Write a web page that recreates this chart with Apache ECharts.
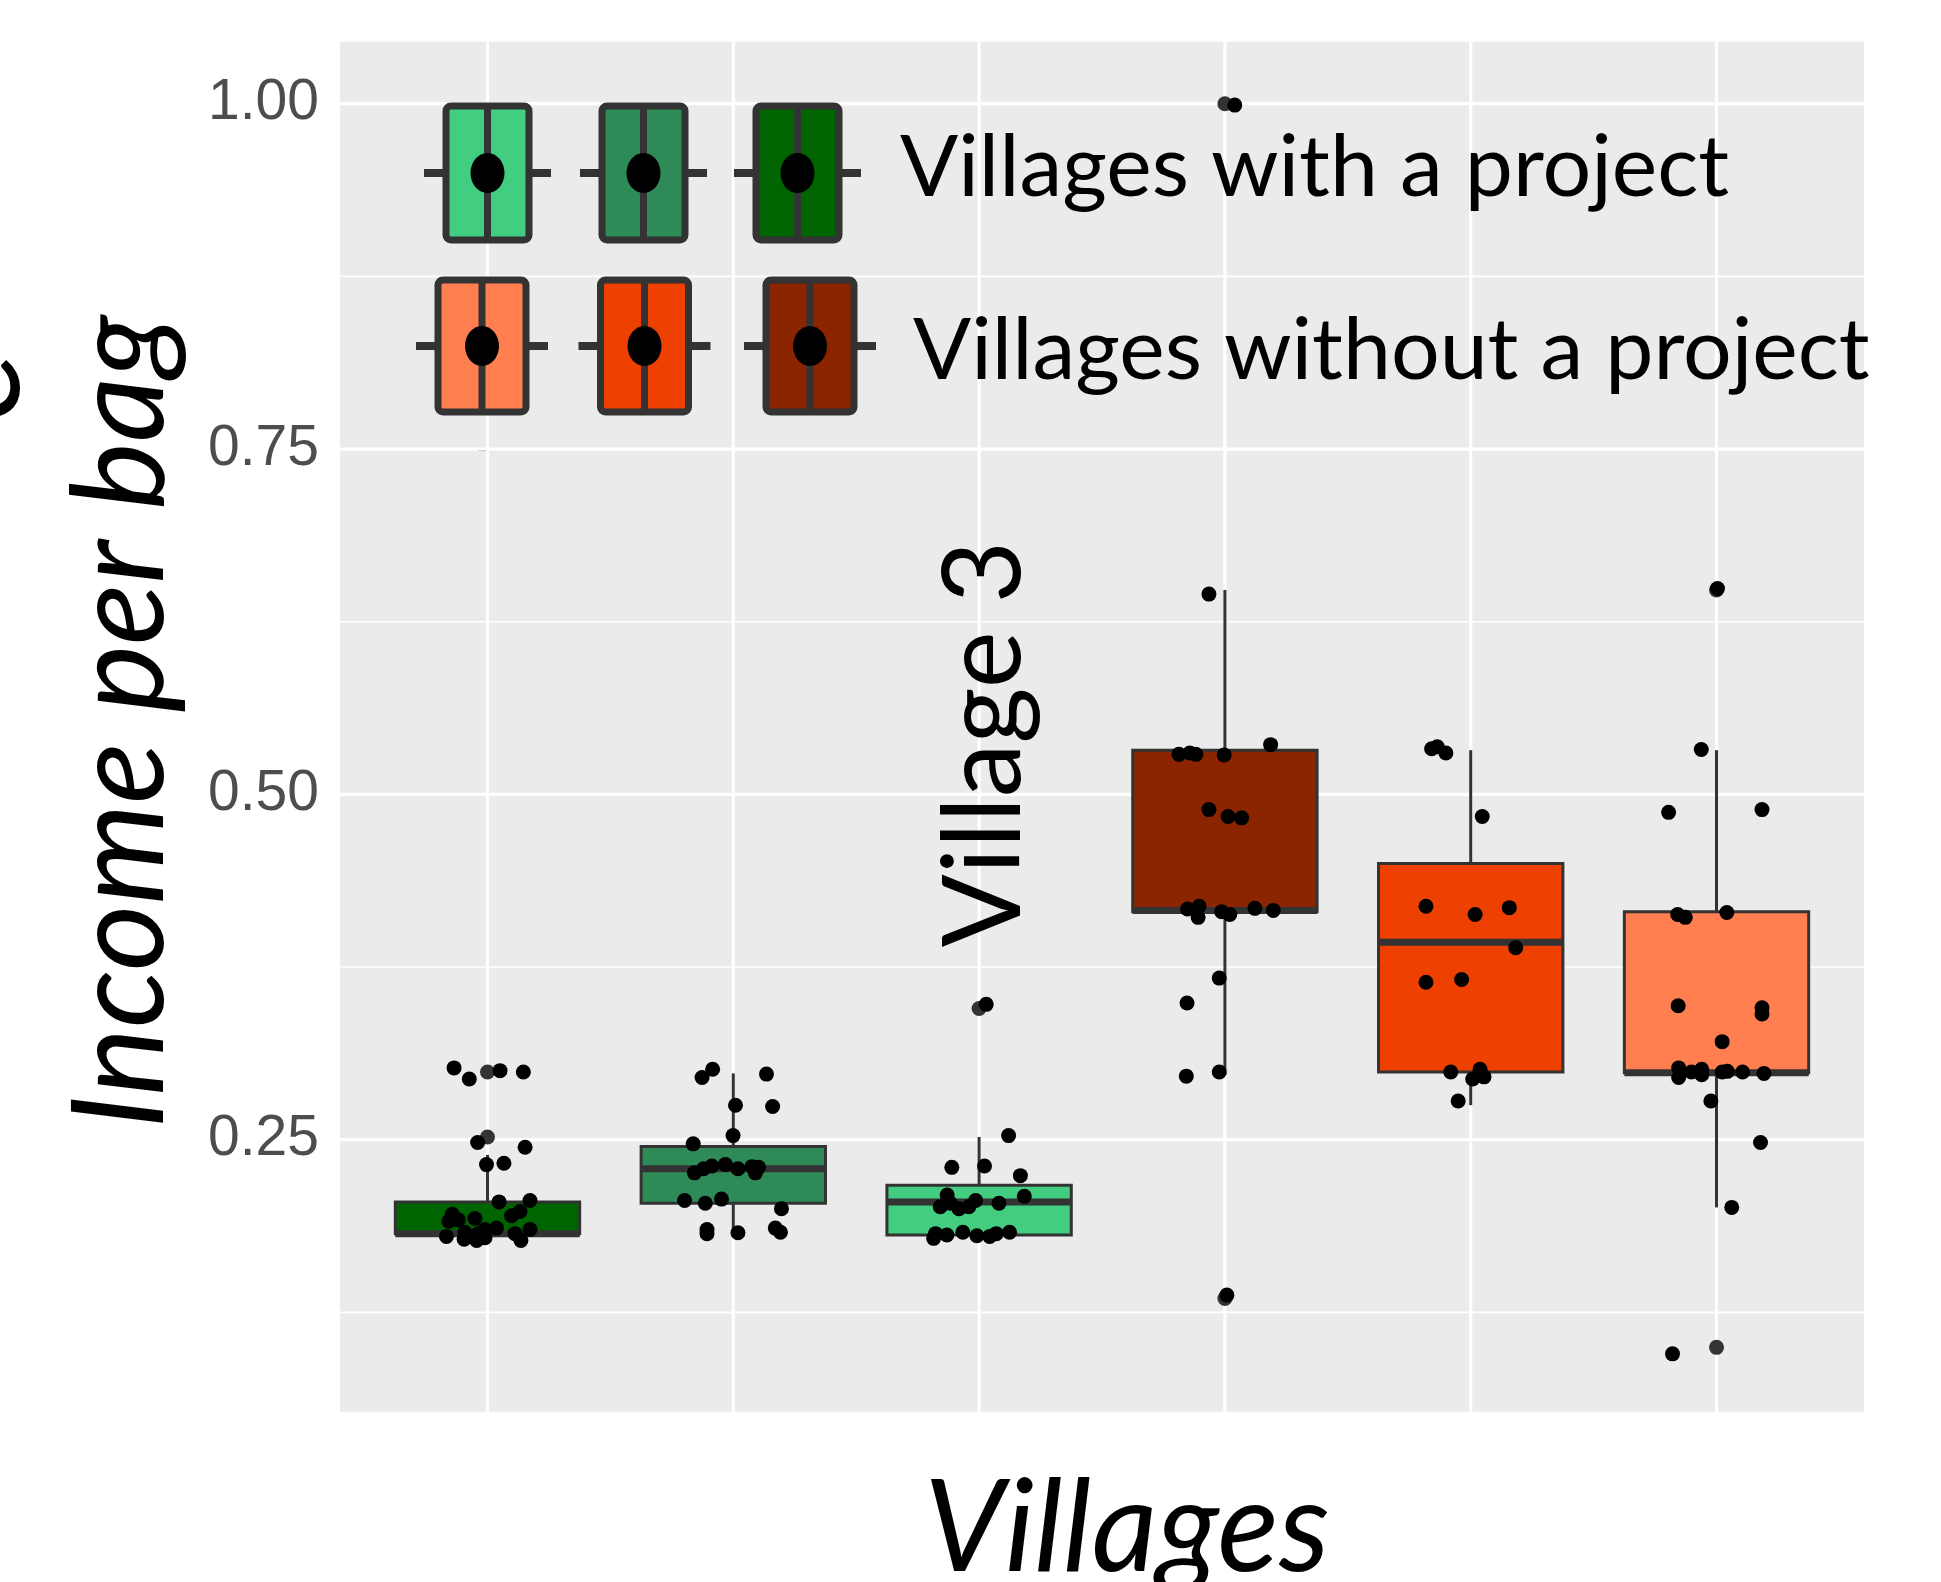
<!DOCTYPE html>
<html><head><meta charset="utf-8">
<script src="https://cdn.jsdelivr.net/npm/echarts@6/dist/echarts.min.js"></script>
<style>html,body{margin:0;padding:0;background:#fff}#c{width:1941px;height:1582px}</style>
</head><body><div id="c"></div>
<script>
// ---------------- data ----------------
const villages = ['Village 1', 'Village 2', 'Village 3', 'Village 4', 'Village 5', 'Village 6'];
const boxColors = ['#006400', '#2E8B57', '#43CD80', '#8B2500', '#EE4000', '#FF7F50'];
// [lower whisker, Q1, median, Q3, upper whisker]
const boxStats = [
  [0.182, 0.182, 0.182, 0.205, 0.239],
  [0.183, 0.204, 0.229, 0.245, 0.298],
  [0.181, 0.181, 0.205, 0.217, 0.252],
  [0.297, 0.415, 0.416, 0.532, 0.648],
  [0.275, 0.299, 0.393, 0.450, 0.532],
  [0.201, 0.2985, 0.2985, 0.415, 0.532]
];
// boxplot outliers: [village index, value]
const outlierPoints = [[0, 0.299], [0, 0.252], [2, 0.345], [3, 1.0], [3, 0.135], [5, 0.648], [5, 0.0997]];
// jittered observations per village: values and horizontal jitter (category units)
const valuesV1 = [0.302, 0.294, 0.300, 0.299, 0.248, 0.2445, 0.232, 0.233, 0.205, 0.206, 0.198, 0.195, 0.196, 0.191, 0.192, 0.193, 0.183, 0.185, 0.186, 0.185, 0.180, 0.178, 0.177, 0.179, 0.182, 0.177, 0.182];
const jitterV1 = [-0.136, -0.074, 0.051, 0.146, -0.040, 0.153, -0.004, 0.067, 0.047, 0.173, 0.132, 0.098, -0.143, -0.157, -0.119, -0.051, -0.092, -0.010, 0.037, 0.173, -0.167, -0.095, -0.044, -0.010, 0.112, 0.136, -0.037];
const valuesV2 = [0.301, 0.295, 0.2975, 0.275, 0.274, 0.253, 0.247, 0.226, 0.229, 0.231, 0.232, 0.229, 0.2305, 0.230, 0.226, 0.206, 0.204, 0.207, 0.200, 0.185, 0.182, 0.1826, 0.186, 0.183];
const jitterV2 = [-0.084, -0.127, 0.135, 0.009, 0.160, -0.001, -0.163, -0.158, -0.121, -0.087, -0.032, 0.019, 0.076, 0.103, 0.090, -0.198, -0.114, -0.048, 0.196, -0.107, -0.107, 0.019, 0.171, 0.192];
const valuesV3 = [0.348, 0.253, 0.230, 0.231, 0.224, 0.210, 0.209, 0.2015, 0.204, 0.200, 0.2015, 0.206, 0.204, 0.1786, 0.182, 0.181, 0.183, 0.1805, 0.180, 0.182, 0.183];
const jitterV3 = [0.029, 0.120, -0.111, 0.022, 0.168, -0.130, 0.184, -0.158, -0.117, -0.082, -0.042, -0.014, 0.081, -0.185, -0.177, -0.131, -0.066, -0.009, 0.043, 0.070, 0.124];
const valuesV4 = [0.999, 0.645, 0.536, 0.529, 0.530, 0.529, 0.5285, 0.489, 0.484, 0.483, 0.417, 0.419, 0.411, 0.415, 0.413, 0.4175, 0.416, 0.367, 0.349, 0.296, 0.299, 0.1375];
const jitterV4 = [0.040, -0.065, 0.186, -0.187, -0.143, -0.118, -0.003, -0.065, 0.013, 0.068, -0.152, -0.105, -0.109, -0.013, 0.020, 0.122, 0.197, -0.023, -0.154, -0.157, -0.023, 0.008];
const valuesV5 = [0.533, 0.5345, 0.530, 0.484, 0.419, 0.413, 0.418, 0.389, 0.364, 0.366, 0.299, 0.301, 0.294, 0.2955, 0.278];
const jitterV5 = [-0.159, -0.136, -0.101, 0.047, -0.182, 0.018, 0.157, 0.183, -0.182, -0.037, -0.081, 0.038, 0.008, 0.054, -0.051];
const valuesV6 = [0.649, 0.5325, 0.487, 0.489, 0.413, 0.411, 0.4145, 0.347, 0.3455, 0.341, 0.321, 0.302, 0.295, 0.299, 0.301, 0.297, 0.299, 0.2995, 0.299, 0.298, 0.278, 0.248, 0.201, 0.095];
const jitterV6 = [0.004, -0.062, -0.195, 0.185, -0.158, -0.127, 0.042, -0.156, 0.185, 0.185, 0.023, -0.154, -0.154, -0.102, -0.060, -0.060, 0.023, 0.044, 0.106, 0.193, -0.023, 0.179, 0.062, -0.179];
const yTickValues = [0.25, 0.50, 0.75, 1.00];
const yMinorValues = [0.125, 0.375, 0.625, 0.875];
const legendLabels = ['Villages with a project', 'Villages without a project'];
const legendColorsWith = ['#43CD80', '#2E8B57', '#006400'];
const legendColorsWithout = ['#FF7F50', '#EE4000', '#8B2500'];

// ---------------- build ----------------
const Y_MIN = 0.0531, Y_MAX = 1.0449, X_MIN = -0.6, X_MAX = 5.6, BOX_W = 0.75;
const allValues = [valuesV1, valuesV2, valuesV3, valuesV4, valuesV5, valuesV6];
const allJitter = [jitterV1, jitterV2, jitterV3, jitterV4, jitterV5, jitterV6];
const jitterData = [];
allValues.forEach((vals, i) => vals.forEach((v, k) => jitterData.push([i + allJitter[i][k], v])));

const gridLines = [];
yMinorValues.forEach(v => gridLines.push(['h', v, 1.6]));
yTickValues.forEach(v => gridLines.push(['h', v, 3.2]));
villages.forEach((n, i) => gridLines.push(['v', i, 3.2]));

function legendIcons(colors, centers, cy, bw, bh) {
  const els = [];
  colors.forEach((c, k) => {
    const cx = centers[k];
    els.push({type: 'line', shape: {x1: cx - bw / 2 - 22, y1: cy, x2: cx + bw / 2 + 22, y2: cy}, style: {stroke: '#333333', lineWidth: 8}, z: 100});
    els.push({type: 'rect', shape: {x: cx - bw / 2, y: cy - bh / 2, width: bw, height: bh, r: 5}, style: {fill: c, stroke: '#333333', lineWidth: 7}, z: 101});
    els.push({type: 'line', shape: {x1: cx, y1: cy - bh / 2, x2: cx, y2: cy + bh / 2}, style: {stroke: '#333333', lineWidth: 7}, z: 102});
    els.push({type: 'ellipse', shape: {cx: cx, cy: cy, rx: 17, ry: 20}, style: {fill: '#000'}, z: 103});
  });
  return els;
}

const graphics = [].concat(
  legendIcons(legendColorsWith, [487.5, 643.5, 797.5], 173, 83, 134),
  legendIcons(legendColorsWithout, [482, 644.5, 810], 346, 88, 132),
  [
    {type: 'text', x: 900, y: 168, z: 110, style: {text: legendLabels[0], font: '86px Lato', fill: '#000', align: 'left', verticalAlign: 'middle', textAlign: 'left', textVerticalAlign: 'middle'}},
    {type: 'text', x: 913, y: 351, z: 110, style: {text: legendLabels[1], font: '86px Lato', fill: '#000', align: 'left', verticalAlign: 'middle', textAlign: 'left', textVerticalAlign: 'middle'}},
    {type: 'text', x: 985, y: 744, rotation: Math.PI / 2, z: 110, style: {text: villages[2], font: '108px Lato', fill: '#000', align: 'center', verticalAlign: 'middle', textAlign: 'center', textVerticalAlign: 'middle'}},
    {type: 'text', x: 122, y: 722, rotation: Math.PI / 2, z: 110, style: {text: 'Income per bag', font: 'italic 128px Lato', fill: '#000', align: 'center', verticalAlign: 'middle', textAlign: 'center', textVerticalAlign: 'middle'}},
    {type: 'text', x: 1127, y: 1530, z: 110, style: {text: 'Villages', font: 'italic 128px Lato', fill: '#000', align: 'center', verticalAlign: 'middle', textAlign: 'center', textVerticalAlign: 'middle'}},
    {type: 'text', x: -22, y: 392, rotation: Math.PI / 2, z: 110, style: {text: '€', font: 'italic 128px Lato', fill: '#000', align: 'center', verticalAlign: 'middle', textAlign: 'center', textVerticalAlign: 'middle'}}
  ]
);

const chart = echarts.init(document.getElementById('c'), null, {renderer: 'canvas'});
chart.setOption({
  animation: false,
  backgroundColor: '#ffffff',
  grid: {left: 340, right: 77, top: 41.7, bottom: 170.3, show: true, backgroundColor: '#EBEBEB', borderWidth: 0, outerBoundsMode: 'none'},
  xAxis: {type: 'value', min: X_MIN, max: X_MAX, axisLine: {show: false}, axisTick: {show: false}, axisLabel: {show: false}, splitLine: {show: false}},
  yAxis: {
    type: 'value', min: Y_MIN, max: Y_MAX,
    axisLine: {show: false},
    axisTick: {show: true, length: 9, customValues: yTickValues, lineStyle: {color: '#333333', width: 3}},
    axisLabel: {customValues: yTickValues, formatter: v => v.toFixed(2), color: '#4D4D4D', fontFamily: 'Liberation Sans', fontSize: 57, margin: 21},
    splitLine: {show: false}
  },
  graphic: graphics,
  series: [
    {
      type: 'custom', z: 1, silent: true, data: gridLines.map(g => [g[0] === 'h' ? 0 : 1, g[1], g[2]]),
      renderItem(params, api) {
        const isV = api.value(0) === 1, v = api.value(1), w = api.value(2);
        const a = isV ? api.coord([v, Y_MIN]) : api.coord([X_MIN, v]);
        const b = isV ? api.coord([v, Y_MAX]) : api.coord([X_MAX, v]);
        return {type: 'line', shape: {x1: a[0], y1: a[1], x2: b[0], y2: b[1]}, style: {stroke: '#ffffff', lineWidth: w}};
      }
    },
    {
      type: 'custom', z: 2, data: boxStats.map((s, i) => [i].concat(s)),
      encode: {x: 0, y: [1, 2, 3, 4, 5]},
      renderItem(params, api) {
        const i = api.value(0);
        const pLow = api.coord([i, api.value(1)]), pQ1 = api.coord([i, api.value(2)]);
        const pMed = api.coord([i, api.value(3)]), pQ3 = api.coord([i, api.value(4)]);
        const pHigh = api.coord([i, api.value(5)]);
        const hw = api.size([BOX_W, 0])[0] / 2;
        const x = pQ1[0];
        return {type: 'group', children: [
          {type: 'line', shape: {x1: x, y1: pHigh[1], x2: x, y2: pQ3[1]}, style: {stroke: '#333333', lineWidth: 3}},
          {type: 'line', shape: {x1: x, y1: pQ1[1], x2: x, y2: pLow[1]}, style: {stroke: '#333333', lineWidth: 3}},
          {type: 'rect', shape: {x: x - hw, y: pQ3[1], width: 2 * hw, height: pQ1[1] - pQ3[1]}, style: {fill: boxColors[i], stroke: '#333333', lineWidth: 3}},
          {type: 'line', shape: {x1: x - hw, y1: pMed[1], x2: x + hw, y2: pMed[1]}, style: {stroke: '#333333', lineWidth: 7}}
        ]};
      }
    },
    {type: 'scatter', z: 3, data: outlierPoints, symbol: 'circle', symbolSize: 15, itemStyle: {color: '#333333', opacity: 1}},
    {type: 'scatter', z: 4, data: jitterData, symbol: 'circle', symbolSize: 15, itemStyle: {color: '#000000', opacity: 1}}
  ]
});
</script></body></html>
